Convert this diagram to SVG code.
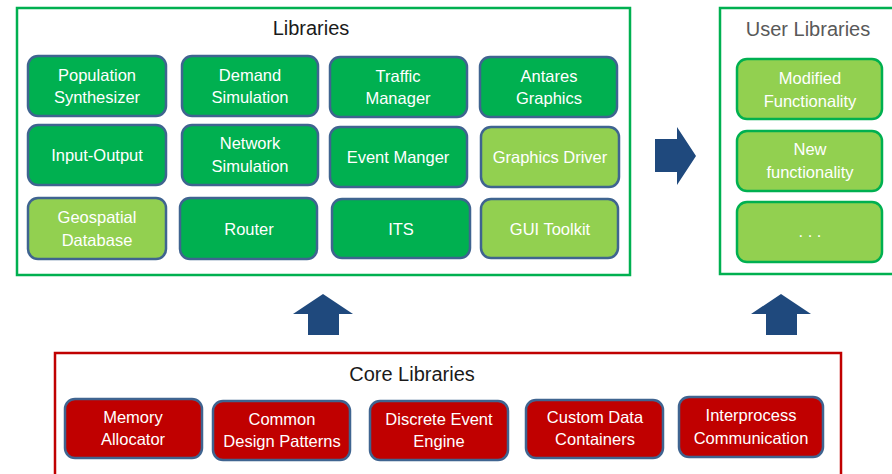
<svg xmlns="http://www.w3.org/2000/svg" width="892" height="474" viewBox="0 0 892 474">
<style>
text{font-family:"Liberation Sans",Arial,sans-serif;text-anchor:middle}
.frame{fill:#ffffff;stroke-width:2.5}
.title{font-size:20px;fill:#1a1a1a}
.lbl{font-size:16.5px;fill:#ffffff}
.dg{fill:#00b050;stroke:#3f6490;stroke-width:2.5}
.lg{fill:#92d050;stroke:#3f6490;stroke-width:2.5}
.ug{fill:#92d050;stroke:#00b050;stroke-width:2.5}
.rd{fill:#c00000;stroke:#3f6490;stroke-width:2.5}
.arr{fill:#1f497d}
</style>
<rect x="0" y="0" width="892" height="474" fill="#ffffff"/>
<g id="libraries">
<rect class="frame" x="17" y="8" width="613" height="267" stroke="#00b050"/>
<text class="title" x="311" y="35">Libraries</text>
</g>
<g id="population-synthesizer"><rect class="dg" x="28" y="56" width="138" height="60" rx="10"/><text class="lbl" x="97" y="81">Population</text><text class="lbl" x="97" y="103">Synthesizer</text></g>
<g id="demand-simulation"><rect class="dg" x="182" y="56" width="136" height="60" rx="10"/><text class="lbl" x="250" y="81">Demand</text><text class="lbl" x="250" y="103">Simulation</text></g>
<g id="traffic-manager"><rect class="dg" x="330" y="57" width="137" height="60" rx="10"/><text class="lbl" x="398" y="82">Traffic</text><text class="lbl" x="398" y="104">Manager</text></g>
<g id="antares-graphics"><rect class="dg" x="480" y="57" width="137" height="60" rx="10"/><text class="lbl" x="549" y="82">Antares</text><text class="lbl" x="549" y="104">Graphics</text></g>
<g id="input-output"><rect class="dg" x="28" y="125" width="138" height="60" rx="10"/><text class="lbl" x="97" y="161">Input-Output</text></g>
<g id="network-simulation"><rect class="dg" x="182" y="125" width="136" height="60" rx="10"/><text class="lbl" x="250" y="149">Network</text><text class="lbl" x="250" y="172">Simulation</text></g>
<g id="event-manger"><rect class="dg" x="330" y="127" width="137" height="60" rx="10"/><text class="lbl" x="398" y="163">Event Manger</text></g>
<g id="graphics-driver"><rect class="lg" x="481" y="127" width="138" height="60" rx="10"/><text class="lbl" x="550" y="163">Graphics Driver</text></g>
<g id="geospatial-database"><rect class="lg" x="28" y="198" width="138" height="61" rx="10"/><text class="lbl" x="97" y="223">Geospatial</text><text class="lbl" x="97" y="246">Database</text></g>
<g id="router"><rect class="dg" x="180" y="198" width="137" height="61" rx="10"/><text class="lbl" x="249" y="235">Router</text></g>
<g id="its"><rect class="dg" x="332" y="199" width="138" height="59" rx="10"/><text class="lbl" x="401" y="235">ITS</text></g>
<g id="gui-toolkit"><rect class="lg" x="481" y="199" width="137" height="59" rx="10"/><text class="lbl" x="550" y="235">GUI Toolkit</text></g>
<g id="user-libraries">
<rect class="frame" x="720" y="8" width="180" height="266" stroke="#00b050"/>
<text class="title" x="808" y="36" style="fill:#595959">User Libraries</text>
</g>
<g id="modified-functionality"><rect class="ug" x="737" y="59" width="145" height="60" rx="10"/><text class="lbl" x="810" y="84">Modified</text><text class="lbl" x="810" y="107">Functionality</text></g>
<g id="new-functionality"><rect class="ug" x="737" y="131" width="145" height="60" rx="10"/><text class="lbl" x="810" y="155">New</text><text class="lbl" x="810" y="178">functionality</text></g>
<g id="ellipsis"><rect class="ug" x="737" y="202" width="145" height="60" rx="10"/><text class="lbl" x="810" y="237">. . .</text></g>
<g id="core-libraries">
<rect class="frame" x="55" y="353" width="786" height="130" stroke="#c00000"/>
<text class="title" x="412" y="381">Core Libraries</text>
</g>
<g id="memory-allocator"><rect class="rd" x="65" y="399" width="137" height="59" rx="10"/><text class="lbl" x="133" y="423">Memory</text><text class="lbl" x="133" y="445">Allocator</text></g>
<g id="common-design-patterns"><rect class="rd" x="213" y="401" width="137" height="59" rx="10"/><text class="lbl" x="282" y="425">Common</text><text class="lbl" x="282" y="447">Design Patterns</text></g>
<g id="discrete-event-engine"><rect class="rd" x="370" y="401" width="138" height="59" rx="10"/><text class="lbl" x="439" y="425">Discrete Event</text><text class="lbl" x="439" y="447">Engine</text></g>
<g id="custom-data-containers"><rect class="rd" x="526" y="400" width="137" height="58" rx="10"/><text class="lbl" x="595" y="423">Custom Data</text><text class="lbl" x="595" y="445">Containers</text></g>
<g id="interprocess-communication"><rect class="rd" x="679" y="397" width="144" height="60" rx="10"/><text class="lbl" x="751" y="421">Interprocess</text><text class="lbl" x="751" y="444">Communication</text></g>
<g id="connectors">
<polygon class="arr" points="323,294 353,314 339,314 339,335 308,335 308,314 293,314"/>
<polygon class="arr" points="781,294 811,314 797,314 797,335 766,335 766,314 751,314"/>
<polygon class="arr" points="655,139 677,139 677,127 696,156 677,185 677,172 655,172"/>
</g>
</svg>
